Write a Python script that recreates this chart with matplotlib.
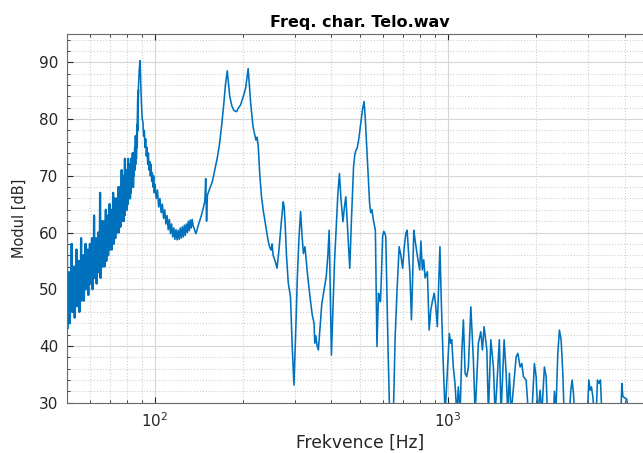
import numpy as np
import matplotlib
matplotlib.use("Agg")
import matplotlib.pyplot as plt
from matplotlib.ticker import MultipleLocator, LogLocator, NullFormatter

plt.rcParams['font.family'] = ['DejaVu Sans']
plt.rcParams['mathtext.default'] = 'regular'

# Low-frequency noisy part (Hz, dB)
freq_low = [50.00, 50.25, 50.50, 50.75, 51.00, 51.25, 51.50, 51.75,
            52.00, 52.25, 52.50, 52.75, 53.00, 53.25, 53.50, 53.75,
            54.00, 54.25, 54.50, 54.75, 55.00, 55.25, 55.50, 55.75,
            56.00, 56.25, 56.50, 56.75, 57.00, 57.25, 57.50, 57.75,
            58.00, 58.25, 58.50, 58.75, 59.00, 59.25, 59.50, 59.75,
            60.00, 60.25, 60.50, 60.75, 61.00, 61.25, 61.50, 61.75,
            62.00, 62.25, 62.50, 62.75, 63.00, 63.25, 63.50, 63.75,
            64.00, 64.25, 64.50, 64.75, 65.00, 65.25, 65.50, 65.75,
            66.00, 66.25, 66.50, 66.75, 67.00, 67.25, 67.50, 67.75,
            68.00, 68.25, 68.50, 68.75, 69.00, 69.25, 69.50, 69.75,
            70.00, 70.25, 70.50, 70.75, 71.00, 71.25, 71.50, 71.75,
            72.00, 72.25, 72.50, 72.75, 73.00, 73.25, 73.50, 73.75,
            74.00, 74.25, 74.50, 74.75, 75.00, 75.25, 75.50, 75.75,
            76.00, 76.25, 76.50, 76.75, 77.00, 77.25, 77.50, 77.75,
            78.00, 78.25, 78.50, 78.75, 79.00, 79.25, 79.50, 79.75,
            80.00, 80.25, 80.50, 80.75, 81.00, 81.25, 81.50, 81.75,
            82.00, 82.25, 82.50, 82.75, 83.00, 83.25, 83.50, 83.75,
            84.00, 84.25, 84.50, 84.75, 85.00, 85.25, 85.50, 85.75,
            86.00, 86.25, 86.50, 86.75, 87.00, 87.25, 87.50, 87.75]
db_low = [71, 43, 50, 46, 53, 44, 51, 47,
          58, 46, 52, 47, 54, 45, 51, 48,
          57, 47, 53, 48, 55, 46, 52, 49,
          59, 48, 54, 49, 56, 48, 53, 50,
          58, 50, 55, 51, 57, 49, 54, 51,
          58, 51, 56, 52, 59, 50, 55, 52,
          63, 52, 57, 53, 59, 51, 56, 53,
          60, 53, 58, 54, 67, 52, 58, 54,
          62, 54, 59, 55, 62, 54, 60, 56,
          64, 55, 61, 56, 63, 56, 60, 57,
          65, 57, 62, 58, 64, 57, 62, 58,
          67, 58, 63, 59, 66, 59, 64, 60,
          66, 60, 64, 61, 68, 60, 65, 61,
          68, 61, 66, 62, 71, 62, 67, 63,
          70, 62, 67, 63, 73, 64, 68, 65,
          71, 64, 69, 65, 73, 66, 70, 67,
          72, 66, 70, 67, 73, 68, 71, 69,
          74, 68, 72, 70, 74, 71, 75, 72,
          77, 73, 76, 75, 79, 78, 83, 85]

# Resonances and mid range
freq_mid = [88.0, 88.5, 89.0, 89.5, 90.0, 90.5, 91.0, 91.5, 92.0, 92.5,
            93.0, 93.5, 94.0, 94.5, 95.0, 95.5, 96.0, 96.5, 97.0, 97.5,
            98.0, 98.5, 99.0, 99.5, 100, 101, 102, 103, 104, 105,
            106, 107, 108, 109, 110, 111, 112, 113, 114, 115,
            116, 117, 118, 119, 120, 121, 122, 123, 124, 125,
            126, 127, 128, 129, 130, 131, 132, 133, 134, 135,
            136, 137, 138, 139, 140, 142, 144, 146, 148, 149,
            150, 151, 152, 154, 157, 160, 163, 166, 169, 172,
            174, 176.5, 178, 180, 183, 186, 190, 193, 196, 200,
            204, 208, 212, 216, 221, 223, 225, 228, 231, 234,
            237, 240, 243, 246, 249, 251, 253, 257, 261, 265,
            270, 274, 276, 278, 281, 285, 290, 294, 298, 302,
            306, 310, 314, 318, 321, 325, 331, 338, 344, 349,
            351, 354, 357, 361, 366, 371, 378, 384, 389, 393,
            397, 400, 405, 410, 416, 421, 426, 431, 438, 443,
            448, 455, 462, 468, 476, 481, 485, 490, 496, 503,
            510, 517, 522, 528, 534, 540, 545, 550, 557, 565,
            572, 579, 584, 588, 593, 598, 603, 608, 613, 618,
            625, 632, 645, 652, 660, 670, 681, 690, 700, 709,
            718, 725, 732, 741, 750, 757, 764, 772, 785, 800,
            808, 817, 826, 835, 850, 862, 873, 885, 897, 908,
            919, 928, 938, 948, 962, 977]
db_mid = [86.5, 89, 90.3, 86, 82.5, 80, 79.5, 77, 78, 75,
          76.5, 73.5, 75, 72, 74, 71, 72.5, 70, 72, 69,
          70.5, 68, 70, 67, 68.5, 66, 67.5, 64.5, 66, 63.5,
          65, 62.5, 64, 61.5, 63, 60.5, 62.3, 59.8, 61.5, 59.2,
          60.8, 58.8, 60.5, 58.7, 60.4, 58.8, 60.8, 59, 61, 59.2,
          61.3, 59.5, 61.5, 60, 62, 60.3, 62.2, 60.8, 62.3, 61.2,
          60.8, 60.2, 59.8, 60.3, 61, 62, 63, 64.2, 65.5, 69.5,
          62, 66.5, 67, 67.8, 69, 71, 73, 75.5, 79, 83,
          86, 88.5, 86.5, 84, 82.3, 81.5, 81.3, 82, 82.5, 83.9,
          85.5, 88.9, 83, 78.7, 76.3, 76.8, 75.4, 70, 66.3, 64,
          62.2, 60.5, 58.7, 57.5, 56.9, 58, 56, 55, 53.7, 57,
          62, 65.4, 64.5, 61.7, 56, 51.1, 48.7, 40, 33.1, 42,
          52, 59, 63.7, 59, 56.3, 57.5, 53, 48.7, 45.5, 44,
          40.5, 41.8, 40.2, 39.3, 43.5, 47.5, 50, 52.2, 56, 60.4,
          48, 38.4, 47, 55, 61.6, 67, 70.4, 66, 61.9, 64.5,
          66.3, 60, 53.7, 62, 71.6, 73.8, 74.5, 74.9, 76.5, 79,
          81.5, 83.1, 80, 75.1, 70, 65.1, 63.5, 64, 62, 60.4,
          39.9, 49.3, 48.2, 47.8, 53, 59.3, 60.2, 59.9, 59.3, 50,
          38, 28, 26, 30, 41.6, 50, 57.5, 56, 53.7, 57.5,
          59.9, 60.4, 57, 52.8, 44.6, 52, 60.4, 58.6, 56, 53.4,
          58.5, 53.4, 55.2, 52, 53.1, 42.8, 46.3, 48, 49.3, 47,
          43.4, 50, 57.5, 48, 37.5, 28]

# High-frequency part, values under 30 dB fall out of the view
freq_high = [1010, 1020, 1029, 1042, 1056, 1071, 1084, 1099, 1114, 1128,
             1143, 1158, 1173, 1196, 1220, 1237, 1269, 1293, 1310, 1327,
             1356, 1373, 1399, 1428, 1447, 1466, 1496, 1516, 1553, 1578,
             1599, 1619, 1641, 1707, 1730, 1761, 1785, 1807, 1846, 1880,
             1931, 1970, 1997, 2024, 2061, 2088, 2131, 2160, 2183, 2288,
             2306, 2331, 2368, 2398, 2430, 2463, 2488, 2594, 2623, 2650,
             2677, 2706, 2988, 3021, 3052, 3083, 3118, 3150, 3200, 3233,
             3277, 3310, 3347, 3885, 3916, 3947, 4018, 4072, 4124]
db_high = [42.2, 40.5, 41.1, 36.3, 33.4, 28, 32.8, 28, 39.0, 44.6,
           35.2, 34.6, 36.3, 46.9, 37.5, 28, 40.5, 42.5, 39.3, 43.4,
           39.3, 28, 41.1, 36.3, 28, 32.8, 41.1, 28, 41.1, 35.2,
           28, 35.2, 28, 38.1, 38.7, 36.3, 36.9, 34.6, 34, 28,
           28, 36.9, 34.6, 28, 32.2, 28, 36.3, 34.6, 28, 28,
           32, 28, 38.7, 42.8, 41.1, 35.2, 28, 28, 32.2, 34,
           31.7, 28, 28, 34, 32.2, 32.8, 31.1, 28, 28, 34,
           33.4, 34, 28, 28, 33.4, 31.1, 30.8, 30.6, 28]

freq = np.array(freq_low + freq_mid + freq_high)
db = np.array(db_low + db_mid + db_high)

fig = plt.figure(figsize=(6.43, 4.53), dpi=100)
ax = fig.add_axes([0.1037, 0.111, 0.9118, 0.8141])

ax.semilogx(freq, db, color='#0072BD', linewidth=1.15)
# noisy band at the start looks denser in the original
ax.semilogx(freq_low, db_low, color='#0072BD', linewidth=1.6)

ax.set_xlim(50, 5000)
ax.set_ylim(30, 95)
ax.set_yticks([30, 40, 50, 60, 70, 80, 90])
ax.yaxis.set_minor_locator(MultipleLocator(2))
ax.xaxis.set_major_locator(LogLocator(base=10))
ax.xaxis.set_minor_locator(LogLocator(base=10, subs=np.arange(2, 10)))
ax.xaxis.set_minor_formatter(NullFormatter())

# MATLAB-like grid
ax.grid(which='major', color='#d6d6d6', linestyle='-', linewidth=0.8)
ax.grid(which='minor', color='#cfcfcf', linestyle=':', linewidth=0.8)
ax.set_axisbelow(True)

ax.tick_params(which='both', direction='in', top=True, right=True,
               colors='#262626', labelsize=11, pad=6)
ax.tick_params(which='major', length=4)
ax.tick_params(which='minor', length=2)
for s in ax.spines.values():
    s.set_color('#6a6a6a')
    s.set_linewidth(0.8)

ax.set_title("Freq. char. Telo.wav", fontsize=11.5, fontweight='bold', pad=5)
ax.set_xlabel("Frekvence [Hz]", fontsize=12.3, color='#262626', labelpad=3)
ax.set_ylabel("Modul [dB]", fontsize=10.5, color='#262626', labelpad=9)

plt.savefig("out.png", dpi=100)
